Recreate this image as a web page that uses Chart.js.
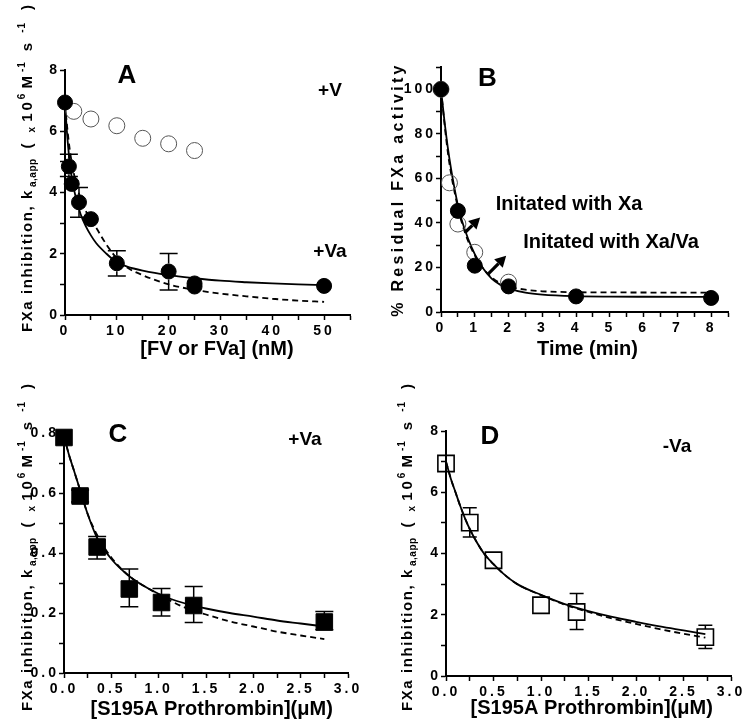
<!DOCTYPE html>
<html>
<head>
<meta charset="utf-8">
<script src="https://cdn.jsdelivr.net/npm/chart.js@4.4.1/dist/chart.umd.min.js"></script>
<style>
  html, body { margin: 0; padding: 0; background: #fff; }
  #wrap { position: relative; width: 745px; height: 725px; }
  #wrap canvas { position: absolute; }
</style>
</head>
<body>
<div id="wrap">
  <canvas id="panelA" width="372" height="362" style="left:0px;top:0px"></canvas>
  <canvas id="panelB" width="373" height="362" style="left:372px;top:0px"></canvas>
  <canvas id="panelC" width="372" height="363" style="left:0px;top:362px"></canvas>
  <canvas id="panelD" width="373" height="363" style="left:372px;top:362px"></canvas>
</div>
<script>
// ---- Panel A: FXa inhibition vs [FV or FVa] ----
const aFvX = [1.7, 5, 10, 15, 20, 25];
const aFvY = [6.65, 6.4, 6.18, 5.77, 5.59, 5.37];
const aFvaX = [0, 0.75, 1.3, 2.7, 5, 10, 20, 25, 25, 50];
const aFvaY = [6.94, 4.85, 4.28, 3.68, 3.13, 1.69, 1.42, 1.03, 0.93, 0.95];
const aFvaLo = [null, 4.52, null, 3.19, null, 1.27, 0.82, null, null, null];
const aFvaHi = [null, 5.25, null, 4.16, null, 2.1, 2.01, null, null, null];
const aFitX = [0, 0.5, 1, 1.5, 2, 3, 4, 5, 6, 8, 10, 12, 15, 20, 25, 30, 35, 40, 45, 50];
const aFitSolid = [6.9, 5.7, 4.85, 4.3, 3.9, 3.3, 2.9, 2.6, 2.35, 2.0, 1.72, 1.58, 1.45, 1.3, 1.2, 1.12, 1.07, 1.03, 1.0, 0.98];
const aFitDash = [6.9, 6.0, 5.3, 4.8, 4.4, 3.8, 3.4, 3.1, 2.85, 2.3, 1.85, 1.55, 1.3, 1.0, 0.82, 0.7, 0.61, 0.53, 0.47, 0.43];
const aXTicks = [0, 5, 10, 15, 20, 25, 30, 35, 40, 45, 50, 55];
const aXLabels = ['0', '', '10', '', '20', '', '30', '', '40', '', '50', ''];
const aYTicks = [0, 1, 2, 3, 4, 5, 6, 7, 8];
const aYLabels = ['0', '', '2', '', '4', '', '6', '', '8'];

// ---- Panel B: residual FXa activity vs time ----
const bXaX = [0, 0.5, 1, 2, 4, 8];
const bXaY = [100, 45.4, 20.8, 11.5, 7, 6.3];
const bXaVaX = [0, 0.25, 0.5, 1, 2];
const bXaVaY = [100, 58, 39.5, 26.8, 13.4];
const bFitX = [0, 0.1, 0.2, 0.3, 0.4, 0.5, 0.6, 0.8, 1.0, 1.25, 1.5, 1.75, 2, 2.5, 3, 4, 5, 6, 8];
const bFitSolid = [100, 86, 74, 64, 55.5, 48, 42, 33, 26, 19.5, 15, 12.3, 10.6, 8.7, 7.8, 7.1, 6.9, 6.85, 6.8];
const bFitDash = [100, 85, 72, 62, 54, 47, 41, 32, 25.5, 19.5, 15.5, 13, 11.5, 10, 9.3, 8.9, 8.8, 8.75, 8.7];
const bXTicks = [0, 0.5, 1, 1.5, 2, 2.5, 3, 3.5, 4, 4.5, 5, 5.5, 6, 6.5, 7, 7.5, 8, 8.5];
const bXLabels = ['0', '', '1', '', '2', '', '3', '', '4', '', '5', '', '6', '', '7', '', '8', ''];
const bYTicks = [0, 10, 20, 30, 40, 50, 60, 70, 80, 90, 100, 110];
const bYLabels = ['0', '', '20', '', '40', '', '60', '', '80', '', '100', ''];

// ---- Panel C: +Va vs S195A prothrombin ----
const cX = [0, 0.17, 0.35, 0.69, 1.03, 1.37, 2.75];
const cY = [0.785, 0.59, 0.42, 0.28, 0.235, 0.225, 0.17];
const cLo = [null, 0.57, 0.38, 0.221, 0.19, 0.168, 0.144];
const cHi = [null, 0.61, 0.455, 0.347, 0.282, 0.288, 0.205];
const cFitX = [0, 0.05, 0.1, 0.17, 0.25, 0.35, 0.5, 0.7, 0.9, 1.1, 1.3, 1.5, 1.75, 2.0, 2.25, 2.5, 2.75];
const cFitSolid = [0.79, 0.73, 0.68, 0.61, 0.53, 0.45, 0.38, 0.32, 0.28, 0.25, 0.23, 0.215, 0.2, 0.188, 0.175, 0.165, 0.155];
const cFitDash = [0.79, 0.73, 0.68, 0.61, 0.53, 0.46, 0.385, 0.32, 0.28, 0.245, 0.215, 0.195, 0.172, 0.155, 0.138, 0.125, 0.113];
const cXTicks = [0, 0.25, 0.5, 0.75, 1, 1.25, 1.5, 1.75, 2, 2.25, 2.5, 2.75, 3];
const cXLabels = ['0.0', '', '0.5', '', '1.0', '', '1.5', '', '2.0', '', '2.5', '', '3.0'];
const cYTicks = [0, 0.1, 0.2, 0.3, 0.4, 0.5, 0.6, 0.7, 0.8];
const cYLabels = ['0.0', '', '0.2', '', '0.4', '', '0.6', '', '0.8'];

// ---- Panel D: -Va vs S195A prothrombin ----
const dX = [0, 0.25, 0.5, 1.0, 1.375, 2.73];
const dY = [6.94, 5.01, 3.78, 2.31, 2.09, 1.27];
const dLo = [null, 4.54, null, null, 1.52, 0.9];
const dHi = [null, 5.49, null, null, 2.69, 1.66];
const dFitX = [0, 0.05, 0.1, 0.15, 0.2, 0.25, 0.3, 0.4, 0.5, 0.6, 0.75, 1.0, 1.25, 1.5, 1.75, 2.0, 2.25, 2.5, 2.73];
const dFitSolid = [7.0, 6.45, 6.0, 5.55, 5.15, 4.8, 4.5, 4.0, 3.65, 3.35, 3.0, 2.65, 2.35, 2.12, 1.93, 1.77, 1.62, 1.49, 1.37];
const dFitDash = [7.0, 6.45, 6.0, 5.55, 5.15, 4.8, 4.5, 4.0, 3.65, 3.35, 3.0, 2.64, 2.33, 2.09, 1.88, 1.7, 1.53, 1.38, 1.25];
const dXTicks = cXTicks;
const dXLabels = cXLabels;
const dYTicks = aYTicks;
const dYLabels = aYLabels;

const FONT = '"Liberation Sans", Arial, sans-serif';
Chart.defaults.font.family = FONT;
Chart.defaults.color = '#000';

const Y_W = 50; // fixed width of every y scale box
const X_H = 30; // fixed height of every x scale box

const pts = (xs, ys) => xs.map((x, i) => ({ x: x, y: ys[i] }));

function markers(xs, ys, style, extra) {
  return Object.assign({
    data: pts(xs, ys),
    pointStyle: style.shape,
    pointRadius: style.r,
    pointBackgroundColor: style.fill,
    pointBorderColor: style.stroke,
    pointBorderWidth: style.width,
    showLine: false,
    clip: false
  }, extra || {});
}

function curve(xs, ys, dashed) {
  return {
    data: pts(xs, ys),
    showLine: true,
    pointRadius: 0,
    borderColor: '#000',
    borderWidth: 1.8,
    borderDash: dashed ? [6, 4] : [],
    cubicInterpolationMode: 'monotone',
    clip: false
  };
}

function axis(min, max, ticks, labels, dir) {
  return {
    type: 'linear',
    min: min,
    max: max,
    afterBuildTicks: s => { s.ticks = ticks.map(v => ({ value: v })); },
    afterFit: s => { if (dir === 'x') s.height = X_H; else s.width = Y_W; },
    border: { display: true, color: '#000', width: 2 },
    grid: { display: true, drawOnChartArea: false, drawTicks: true, tickLength: 5, tickColor: '#000', tickWidth: 1.5 },
    ticks: {
      autoSkip: false,
      maxRotation: 0,
      padding: dir === 'x' ? 3 : 0,
      color: '#000',
      font: { size: 14, weight: 'bold' },
      callback: (v, i) => labels[i]
    }
  };
}

// rich y-axis title: FXa inhibition, k_a,app ( x10^6 M^-1 s^-1 )
const kLabel = [
  { t: 'FXa inhibition, k', size: 15, sp: 1.6, shift: 0, gap: 0 },
  { t: 'a,app', size: 10, sp: 0.5, shift: 4, gap: 2 },
  { t: '(', size: 15, sp: 0, shift: 0, gap: 10 },
  { t: 'x', size: 10, sp: 0, shift: 3, gap: 11 },
  { t: '10', size: 15, sp: 3, shift: 0, gap: 5 },
  { t: '6', size: 10, sp: 0, shift: -7, gap: 0 },
  { t: 'M', size: 15, sp: 0, shift: 0, gap: 5 },
  { t: '-1', size: 10, sp: 1, shift: -7, gap: 4 },
  { t: 's', size: 15, sp: 0, shift: 0, gap: 10 },
  { t: '-1', size: 10, sp: 1, shift: -7, gap: 10 },
  { t: ')', size: 15, sp: 0, shift: 0, gap: 12 }
];
const bLabel = [{ t: '% Residual FXa activity', size: 16, sp: 3.3, shift: 0, gap: 0 }];

function drawVertical(ctx, pieces, cx, cy) {
  let total = 0;
  const widths = pieces.map(p => {
    ctx.font = 'bold ' + p.size + 'px ' + FONT;
    ctx.letterSpacing = p.sp + 'px';
    const w = ctx.measureText(p.t).width;
    total += p.gap + w;
    return w;
  });
  ctx.save();
  ctx.translate(cx, cy);
  ctx.rotate(-Math.PI / 2);
  ctx.textAlign = 'left';
  ctx.textBaseline = 'alphabetic';
  let x = -total / 2;
  pieces.forEach((p, i) => {
    x += p.gap;
    ctx.font = 'bold ' + p.size + 'px ' + FONT;
    ctx.letterSpacing = p.sp + 'px';
    ctx.fillText(p.t, x, 5.5 + p.shift);
    x += widths[i];
  });
  ctx.restore();
}

function overlay(cfg) {
  return {
    id: 'overlay',
    beforeDraw(chart) { chart.ctx.letterSpacing = '3px'; },
    afterDatasetsDraw(chart) {
      const ctx = chart.ctx;
      const xs = chart.scales.x, ys = chart.scales.y;
      ctx.save();
      ctx.strokeStyle = '#000';
      ctx.lineWidth = 1.5;
      chart.data.datasets.forEach(ds => {
        if (!ds.errLo) return;
        ds.data.forEach((p, j) => {
          if (ds.errLo[j] == null) return;
          const px = xs.getPixelForValue(p.x);
          const pc = ys.getPixelForValue(p.y);
          const pl = ys.getPixelForValue(ds.errLo[j]);
          const ph = ys.getPixelForValue(ds.errHi[j]);
          const h = ds.halfSize, c = ds.capHalf;
          ctx.beginPath();
          if (ph < pc - h) { ctx.moveTo(px, ph); ctx.lineTo(px, pc - h); }
          if (pl > pc + h) { ctx.moveTo(px, pc + h); ctx.lineTo(px, pl); }
          ctx.moveTo(px - c, ph); ctx.lineTo(px + c, ph);
          ctx.moveTo(px - c, pl); ctx.lineTo(px + c, pl);
          ctx.stroke();
        });
      });
      (cfg.arrows || []).forEach(a => {
        const x0 = xs.getPixelForValue(a.x0), y0 = ys.getPixelForValue(a.y0);
        const x1 = xs.getPixelForValue(a.x1), y1 = ys.getPixelForValue(a.y1);
        const ang = Math.atan2(y1 - y0, x1 - x0);
        const hl = 11, hw = 6;
        const bx = x1 - hl * Math.cos(ang), by = y1 - hl * Math.sin(ang);
        ctx.lineWidth = 3.2;
        ctx.beginPath(); ctx.moveTo(x0, y0); ctx.lineTo(bx, by); ctx.stroke();
        ctx.fillStyle = '#000';
        ctx.beginPath();
        ctx.moveTo(x1, y1);
        ctx.lineTo(bx + hw * Math.sin(ang), by - hw * Math.cos(ang));
        ctx.lineTo(bx - hw * Math.sin(ang), by + hw * Math.cos(ang));
        ctx.closePath(); ctx.fill();
      });
      ctx.restore();
    },
    afterDraw(chart) {
      const ctx = chart.ctx;
      ctx.save();
      ctx.fillStyle = '#000';
      ctx.textAlign = 'center';
      ctx.textBaseline = 'middle';
      cfg.texts.forEach(t => {
        ctx.font = 'bold ' + t.size + 'px ' + FONT;
        ctx.letterSpacing = (t.sp || 0) + 'px';
        ctx.fillText(t.text, t.x, t.y);
      });
      drawVertical(ctx, cfg.yTitle.pieces, cfg.yTitle.x, cfg.yTitle.y);
      ctx.restore();
    }
  };
}

// area = chart-area edges in canvas pixels; padding is derived from the fixed scale sizes
function makePanel(id, p) {
  const cv = document.getElementById(id);
  const a = p.area;
  const padding = { left: a.left - Y_W, top: a.top, right: cv.width - a.right, bottom: cv.height - a.bottom - X_H };
  return new Chart(cv, {
    type: 'scatter',
    data: { datasets: p.datasets },
    options: {
      responsive: false,
      animation: false,
      events: [],
      devicePixelRatio: 1,
      layout: { padding: padding },
      plugins: { legend: { display: false }, tooltip: { enabled: false } },
      scales: { x: p.x, y: p.y }
    },
    plugins: [overlay(p.overlay)]
  });
}

const filledCircle = { shape: 'circle', r: 7.5, fill: '#000', stroke: '#000', width: 1 };
const openCircle = { shape: 'circle', r: 8, fill: 'rgba(0,0,0,0)', stroke: '#555', width: 1 };
const filledSquare = { shape: 'rect', r: 11.7, fill: '#000', stroke: '#000', width: 1 };
const openSquare = { shape: 'rect', r: 11.5, fill: 'rgba(0,0,0,0)', stroke: '#000', width: 1.6 };

makePanel('panelA', {
  area: { left: 65, top: 70, right: 350, bottom: 315 },
  x: axis(0, 55, aXTicks, aXLabels, 'x'),
  y: axis(0, 8, aYTicks, aYLabels, 'y'),
  datasets: [
    markers(aFvaX, aFvaY, filledCircle, { errLo: aFvaLo, errHi: aFvaHi, halfSize: 8, capHalf: 9 }),
    markers(aFvX, aFvY, openCircle),
    curve(aFitX, aFitSolid, false),
    curve(aFitX, aFitDash, true)
  ],
  overlay: {
    texts: [
      { text: 'A', x: 127, y: 76, size: 26 },
      { text: '+V', x: 330, y: 91, size: 19 },
      { text: '+Va', x: 330, y: 252, size: 19 },
      { text: '[FV or FVa] (nM)', x: 217, y: 349, size: 20 }
    ],
    yTitle: { pieces: kLabel, x: 26.5, y: 168.5 }
  }
});

makePanel('panelB', {
  area: { left: 69, top: 67, right: 356, bottom: 312 },
  x: axis(0, 8.5, bXTicks, bXLabels, 'x'),
  y: axis(0, 110, bYTicks, bYLabels, 'y'),
  datasets: [
    markers(bXaX, bXaY, filledCircle),
    markers(bXaVaX, bXaVaY, openCircle),
    curve(bFitX, bFitSolid, false),
    curve(bFitX, bFitDash, true)
  ],
  overlay: {
    texts: [
      { text: 'B', x: 115.5, y: 79, size: 26 },
      { text: 'Initated with Xa', x: 197, y: 204, size: 20 },
      { text: 'Initated with Xa/Va', x: 239, y: 242, size: 20 },
      { text: 'Time (min)', x: 215.5, y: 349, size: 20 }
    ],
    arrows: [
      { x0: 0.71, y0: 35.7, x1: 1.16, y1: 42.4 },
      { x0: 1.40, y0: 17.1, x1: 1.93, y1: 25.3 }
    ],
    yTitle: { pieces: bLabel, x: 25, y: 189.5 }
  }
});

makePanel('panelC', {
  area: { left: 64, top: 71, right: 348, bottom: 311 },
  x: axis(0, 3, cXTicks, cXLabels, 'x'),
  y: axis(0, 0.8, cYTicks, cYLabels, 'y'),
  datasets: [
    markers(cX, cY, filledSquare, { errLo: cLo, errHi: cHi, halfSize: 8, capHalf: 9 }),
    curve(cFitX, cFitSolid, false),
    curve(cFitX, cFitDash, true)
  ],
  overlay: {
    texts: [
      { text: 'C', x: 118, y: 73, size: 26 },
      { text: '+Va', x: 305, y: 78, size: 19 },
      { text: '[S195A Prothrombin](\u03bcM)', x: 211.7, y: 347, size: 20 }
    ],
    yTitle: { pieces: kLabel, x: 26.5, y: 185.5 }
  }
});

makePanel('panelD', {
  area: { left: 74, top: 69, right: 359, bottom: 314 },
  x: axis(0, 3, dXTicks, dXLabels, 'x'),
  y: axis(0, 8, dYTicks, dYLabels, 'y'),
  datasets: [
    markers(dX, dY, openSquare, { errLo: dLo, errHi: dHi, halfSize: 8, capHalf: 7 }),
    curve(dFitX, dFitSolid, false),
    curve(dFitX, dFitDash, true)
  ],
  overlay: {
    texts: [
      { text: 'D', x: 118, y: 75, size: 26 },
      { text: '-Va', x: 305, y: 85, size: 19 },
      { text: '[S195A Prothrombin](\u03bcM)', x: 219.7, y: 346, size: 20 }
    ],
    yTitle: { pieces: kLabel, x: 34.5, y: 185.5 }
  }
});
</script>
</body>
</html>
